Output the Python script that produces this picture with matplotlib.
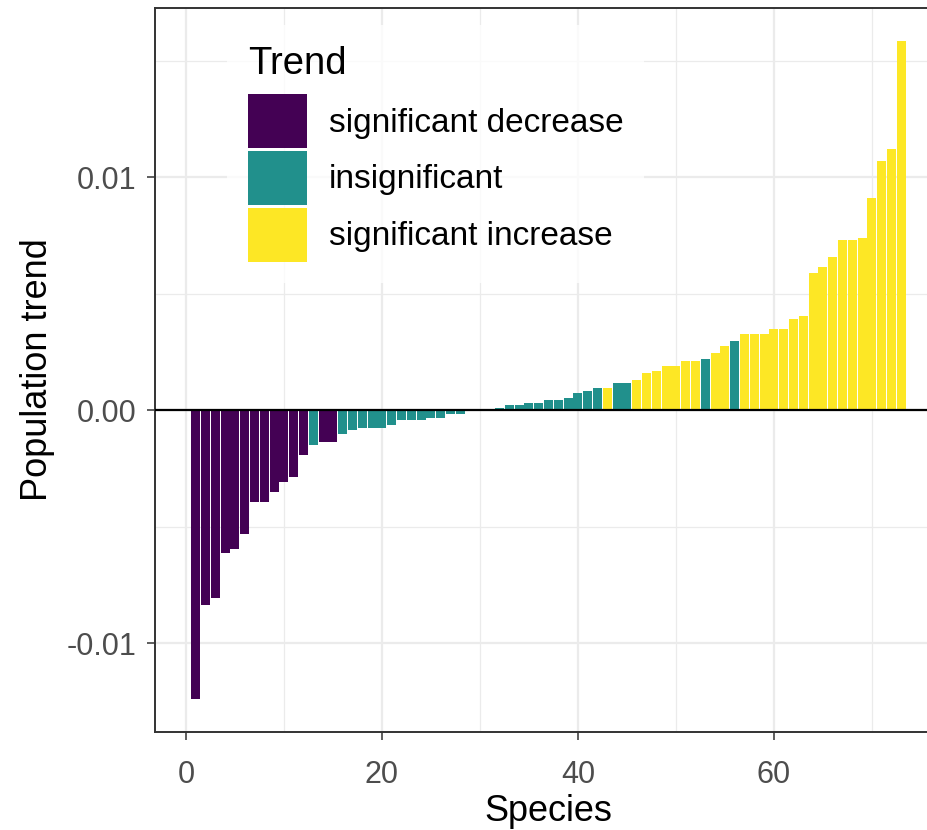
import matplotlib
matplotlib.use("Agg")
import matplotlib.pyplot as plt
from matplotlib.patches import Patch
import numpy as np

plt.rcParams['font.family'] = ['Liberation Sans', 'DejaVu Sans']

# Species ranked by population trend
trend = [
    -0.01239, -0.00836, -0.00805, -0.00613, -0.00594, -0.00530, -0.00392, -0.00392,
    -0.00349, -0.00306, -0.00285, -0.00190, -0.00147, -0.00135, -0.00134, -0.00103,
    -0.00084, -0.00074, -0.00074, -0.00074, -0.00063, -0.00041, -0.00041, -0.00041,
    -0.00031, -0.00031, -0.00017, -0.00017, -0.00002, 0.00001, 0.00003, 0.00012,
    0.00021, 0.00021, 0.00033, 0.00033, 0.00043, 0.00043, 0.00054, 0.00076,
    0.00085, 0.00094, 0.00094, 0.00118, 0.00118, 0.00128, 0.00160, 0.00168,
    0.00189, 0.00189, 0.00211, 0.00211, 0.00222, 0.00244, 0.00275, 0.00296,
    0.00328, 0.00328, 0.00328, 0.00349, 0.00349, 0.00390, 0.00403, 0.00591,
    0.00614, 0.00657, 0.00731, 0.00731, 0.00741, 0.00909, 0.01068, 0.01123,
    0.01585,
]

# Significance class per species: 'dec', 'ns', 'inc'
status = (
    ['dec'] * 12 + ['ns'] + ['dec', 'dec'] + ['ns'] * 27
    + ['inc'] + ['ns', 'ns'] + ['inc'] * 7 + ['ns'] + ['inc', 'inc'] + ['ns']
    + ['inc'] * 17
)

trend_labels = ['significant decrease', 'insignificant', 'significant increase']
trend_keys = ['dec', 'ns', 'inc']
trend_colors = ['#440154', '#21908C', '#FDE725']
color_map = dict(zip(trend_keys, trend_colors))

species = np.arange(1, len(trend) + 1)
bar_colors = [color_map[s] for s in status]

W, H = 927, 830
fig = plt.figure(figsize=(W / 100, H / 100), dpi=100)
ax = fig.add_axes([155 / W, (H - 732) / H, (942 - 155) / W, (732 - 8) / H])

ax.bar(species, trend, width=0.92, color=bar_colors, linewidth=0, zorder=3)
ax.axhline(0, color='black', linewidth=1.6, zorder=4)

# Axis ranges with 5% padding around the data
lo, hi = min(trend), max(trend)
pad = 0.05 * (hi - lo)
ax.set_ylim(lo - pad, hi + pad)
xr = (species[-1] + 0.5) - (species[0] - 0.5)
ax.set_xlim(species[0] - 0.5 - 0.05 * xr, species[-1] + 0.5 + 0.05 * xr)

ax.set_xticks([0, 20, 40, 60])
ax.set_xticks([10, 30, 50, 70], minor=True)
ax.set_yticks([-0.01, 0.0, 0.01])
ax.set_yticklabels(['-0.01', '0.00', '0.01'])
ax.set_yticks([-0.005, 0.005, 0.015], minor=True)

ax.grid(which='major', color='#EBEBEB', linewidth=1.6, zorder=0)
ax.grid(which='minor', color='#EBEBEB', linewidth=0.9, zorder=0)
ax.set_axisbelow(True)

for sp in ax.spines.values():
    sp.set_color('#333333')
    sp.set_linewidth(1.4)

ax.tick_params(which='major', length=5.5, width=1.1, color='#333333',
               labelcolor='#4D4D4D', labelsize=22, pad=8)
ax.tick_params(axis='x', which='major', pad=14.5)
ax.tick_params(which='minor', length=0)

ax.set_xlabel('Species', fontsize=26, labelpad=3)
ax.set_ylabel('Population trend', fontsize=26, labelpad=8)

handles = [Patch(facecolor=c, edgecolor='none') for c in trend_colors]
leg = ax.legend(handles, trend_labels, title='Trend', loc='upper left',
                bbox_to_anchor=(227 / W, 1 - 25 / H), bbox_transform=fig.transFigure,
                borderaxespad=0, fontsize=24, title_fontsize=27.5, frameon=True,
                fancybox=False, handlelength=1.77, handleheight=2.12,
                labelspacing=0.08, handletextpad=0.65, borderpad=0.63,
                alignment='left')
leg._legend_box.sep = 8.7
leg.get_frame().set_facecolor('white')
leg.get_frame().set_edgecolor('none')
leg.set_zorder(5)

fig.savefig('out.png', dpi=100)
